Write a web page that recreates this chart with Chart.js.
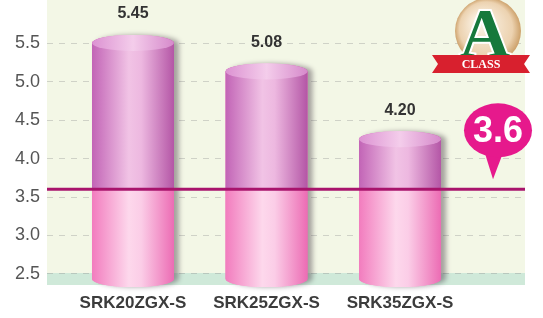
<!DOCTYPE html>
<html>
<head>
<meta charset="utf-8">
<script src="https://cdn.jsdelivr.net/npm/chart.js@4/dist/chart.umd.min.js"></script>
<style>
  html, body { margin: 0; padding: 0; background: #fff; }
  #wrap { width: 543px; height: 318px; }
</style>
</head>
<body>
<div id="wrap"><canvas id="copChart"></canvas></div>
<script>
// data
const models = ['SRK20ZGX-S', 'SRK25ZGX-S', 'SRK35ZGX-S'];
const copValues = [5.45, 5.08, 4.20];
const yTicks = [2.5, 3.0, 3.5, 4.0, 4.5, 5.0, 5.5];
const standardValue = 3.6;
const standardLabel = '3.6';
const logoLetter = 'A';
const logoText = 'CLASS';

window.onload = function(){
  const ctx = document.getElementById('copChart');

  function cylinder(c, x, top, bottom, w, yLine){
    const l = x - w / 2, r = x + w / 2, ry = 8;
    const grad = function(stops){
      const g = c.createLinearGradient(l, 0, r, 0);
      stops.forEach(function(s){ g.addColorStop(s[0], s[1]); });
      return g;
    };
    const upper = grad([[0, '#c264b6'], [0.45, '#f1c3e5'], [0.6, '#edb8e0'], [1, '#b456a6']]);
    const lower = grad([[0, '#f27cbe'], [0.45, '#fdd8ec'], [0.6, '#fbcde7'], [1, '#ec6cb4']]);
    const capTop = top - 4;

    const body = new Path2D();
    body.moveTo(l, capTop);
    body.lineTo(l, bottom);
    body.ellipse(x, bottom, w / 2, ry, 0, Math.PI, 0, true);
    body.lineTo(r, capTop);
    body.ellipse(x, capTop, w / 2, ry, 0, 0, Math.PI, true);
    body.closePath();

    c.save();
    c.shadowColor = 'rgba(70,60,70,0.45)';
    c.shadowOffsetX = 5;
    c.shadowBlur = 5;
    c.fillStyle = lower;
    c.fill(body);
    c.restore();

    c.save();
    c.clip(body);
    c.fillStyle = upper;
    c.fillRect(l - 2, capTop - ry - 2, w + 4, Math.max(0, yLine - capTop + ry + 2));
    c.fillStyle = lower;
    c.fillRect(l - 2, yLine, w + 4, bottom + ry + 2 - yLine);
    c.restore();

    // top cap
    c.save();
    const cap = c.createLinearGradient(l, 0, r, 0);
    cap.addColorStop(0, '#dc92d2');
    cap.addColorStop(0.5, '#f4cdeb');
    cap.addColorStop(1, '#d68acb');
    c.fillStyle = cap;
    c.beginPath();
    c.ellipse(x, capTop, w / 2, ry, 0, 0, Math.PI * 2);
    c.fill();
    c.restore();
  }

  const decor = {
    id: 'decor',
    beforeDraw(chart){
      const c = chart.ctx, a = chart.chartArea, ys = chart.scales.y;
      c.save();
      c.fillStyle = '#f3f7e6';
      c.fillRect(a.left, a.top, a.right - a.left, a.bottom - a.top);
      const yb = ys.getPixelForValue(yTicks[0]) - 1;
      c.fillStyle = '#cfe9d9';
      c.fillRect(a.left, yb, a.right - a.left, a.bottom - yb);
      c.restore();
    },
    afterDatasetsDraw(chart){
      const c = chart.ctx, a = chart.chartArea, ys = chart.scales.y;
      const yLine = ys.getPixelForValue(standardValue);
      const meta = chart.getDatasetMeta(0);
      meta.data.forEach(function(bar, i){
        const bottom = Math.min(bar.base, a.bottom) - 6;
        cylinder(c, bar.x, bar.y, bottom, bar.width, yLine);
        c.save();
        c.fillStyle = '#333';
        c.font = 'bold 16px "Liberation Sans", Arial, sans-serif';
        c.textAlign = 'center';
        c.textBaseline = 'middle';
        c.fillText(copValues[i].toFixed(2), bar.x, bar.y - 33);
        c.restore();
      });

      // standard line
      c.save();
      c.strokeStyle = '#a8146c';
      c.lineWidth = 3;
      c.beginPath();
      c.moveTo(a.left, yLine);
      c.lineTo(a.right, yLine);
      c.stroke();

      // bubble
      const bx = a.right - 27, by = yLine - 59;
      c.fillStyle = '#e6198c';
      c.beginPath();
      c.moveTo(bx - 14, by + 20);
      c.lineTo(bx - 5, yLine - 10);
      c.lineTo(bx + 6, by + 20);
      c.closePath();
      c.fill();
      c.beginPath();
      c.ellipse(bx, by, 34, 27, 0, 0, Math.PI * 2);
      c.fill();
      c.fillStyle = '#ffffff';
      c.font = 'bold 36px "Liberation Sans", Arial, sans-serif';
      c.textAlign = 'center';
      c.textBaseline = 'middle';
      c.fillText(standardLabel, bx, by + 2);
      c.restore();

      // A CLASS logo
      c.save();
      const lx = a.right - 37, ly = a.top + 31;
      const ring = c.createRadialGradient(lx - 8, ly - 10, 4, lx, ly, 34);
      ring.addColorStop(0, '#fbf3e6');
      ring.addColorStop(0.75, '#ecd2b0');
      ring.addColorStop(1, '#c99b62');
      c.fillStyle = ring;
      c.beginPath();
      c.arc(lx, ly, 33, 0, Math.PI * 2);
      c.fill();
      c.font = 'bold 70px "Liberation Serif", "DejaVu Serif", serif';
      c.textAlign = 'center';
      c.textBaseline = 'alphabetic';
      c.lineWidth = 4;
      c.strokeStyle = '#ffffff';
      c.strokeText(logoLetter, lx - 3, ly + 26);
      c.fillStyle = '#16793c';
      c.fillText(logoLetter, lx - 3, ly + 26);
      // ribbon
      c.fillStyle = '#d8202e';
      c.beginPath();
      c.moveTo(lx - 56, ly + 24);
      c.lineTo(lx + 42, ly + 24);
      c.lineTo(lx + 36, ly + 33);
      c.lineTo(lx + 42, ly + 42);
      c.lineTo(lx - 56, ly + 42);
      c.lineTo(lx - 50, ly + 33);
      c.closePath();
      c.fill();
      c.fillStyle = '#ffffff';
      c.font = 'bold 12px "Liberation Serif", "DejaVu Serif", serif';
      c.textBaseline = 'middle';
      c.fillText(logoText, lx - 7, ly + 34);
      c.restore();
    }
  };

  new Chart(ctx, {
    type: 'bar',
    data: {
      datasets: [{
        label: 'COP',
        data: copValues.map(function(v, i){ return { x: i + 1, y: v }; }),
        backgroundColor: 'rgba(0,0,0,0)',
        borderWidth: 0,
        barThickness: 82
      }]
    },
    options: {
      responsive: true,
      maintainAspectRatio: false,
      animation: false,
      layout: { padding: { top: 0, right: 18, left: 0, bottom: 0 } },
      plugins: { legend: { display: false }, tooltip: { enabled: false } },
      scales: {
        x: {
          type: 'linear',
          offset: false,
          min: 0.356,
          max: 3.936,
          afterBuildTicks: function(s){ s.ticks = models.map(function(m, i){ return { value: i + 1 }; }); },
          afterFit: function(s){ s.height = 33; s.paddingLeft = 0; s.paddingRight = 0; },
          grid: { display: false, drawTicks: false },
          border: { display: false },
          ticks: {
            padding: 8,
            color: '#3c3c3c',
            maxRotation: 0,
            autoSkip: false,
            font: { family: '"Liberation Sans", Arial, sans-serif', size: 17, weight: 'bold' },
            callback: function(v){ return models[v - 1]; }
          }
        },
        y: {
          min: 2.357,
          max: 6.06,
          afterBuildTicks: function(s){ s.ticks = yTicks.map(function(v){ return { value: v }; }); },
          afterFit: function(s){ s.width = 47; s.paddingTop = 0; s.paddingBottom = 0; },
          grid: { color: 'rgba(140,140,140,0.35)', drawTicks: false, lineWidth: 1 },
          border: { display: false, dash: [6, 6] },
          ticks: {
            padding: 7,
            color: '#555',
            font: { family: '"Liberation Sans", Arial, sans-serif', size: 18 },
            callback: function(v){ return v.toFixed(1); }
          }
        }
      }
    },
    plugins: [decor]
  });
};
</script>
</body>
</html>
